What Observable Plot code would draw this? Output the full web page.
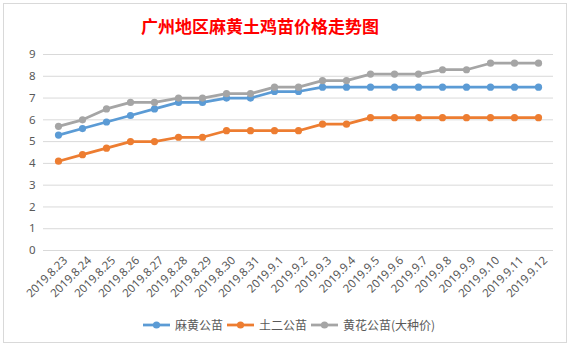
<!DOCTYPE html>
<html>
<head>
<meta charset="utf-8">
<script src="https://cdn.jsdelivr.net/npm/d3@7"></script>
<script src="https://cdn.jsdelivr.net/npm/@observablehq/plot@0.6"></script>
<style>
  html, body { margin: 0; padding: 0; background: #fff; }
  #wrap { position: relative; width: 572px; height: 347px; overflow: hidden; font-family: "Noto Sans CJK SC", "Noto Sans", sans-serif; }
  #frame { position: absolute; left: 3px; top: 3px; width: 564px; height: 340px; border: 1px solid #d9d9d9; box-sizing: border-box; pointer-events: none; }
  #title { position: absolute; left: -26px; top: 13px; width: 572px; text-align: center; color: #ff0000; font-size: 17px; font-weight: bold; line-height: 26px; }
  #chart { position: absolute; left: 0; top: 44px; }
  #legend { position: absolute; left: 0; top: 316px; width: 572px; display: flex; justify-content: center; gap: 4px; font-size: 12px; color: #595959; line-height: 18px; padding-left: 6px; box-sizing: border-box; }
  .item { display: flex; align-items: center; gap: 5px; }
</style>
</head>
<body>
<div id="wrap">
  <div id="frame"></div>
  <div id="title">广州地区麻黄土鸡苗价格走势图</div>
  <div id="chart"></div>
  <div id="legend"></div>
</div>
<script>
const dates = ["2019.8.23","2019.8.24","2019.8.25","2019.8.26","2019.8.27","2019.8.28","2019.8.29","2019.8.30","2019.8.31","2019.9.1","2019.9.2","2019.9.3","2019.9.4","2019.9.5","2019.9.6","2019.9.7","2019.9.8","2019.9.9","2019.9.10","2019.9.11","2019.9.12"];
const seriesNames = ["麻黄公苗", "土二公苗", "黄花公苗(大种价)"];
const mahuang = [5.3,5.6,5.9,6.2,6.5,6.8,6.8,7.0,7.0,7.3,7.3,7.5,7.5,7.5,7.5,7.5,7.5,7.5,7.5,7.5,7.5];
const tuer    = [4.1,4.4,4.7,5.0,5.0,5.2,5.2,5.5,5.5,5.5,5.5,5.8,5.8,6.1,6.1,6.1,6.1,6.1,6.1,6.1,6.1];
const huanghua= [5.7,6.0,6.5,6.8,6.8,7.0,7.0,7.2,7.2,7.5,7.5,7.8,7.8,8.1,8.1,8.1,8.3,8.3,8.6,8.6,8.6];
const yTicks = [0,1,2,3,4,5,6,7,8,9];
const colors = ["#5B9BD5", "#ED7D31", "#A5A5A5"];

const valuesBySeries = [mahuang, tuer, huanghua];
const data = [];
seriesNames.forEach((s, i) => dates.forEach((d, j) => data.push({series: s, date: d, value: valuesBySeries[i][j]})));

const plot = Plot.plot({
  width: 572,
  height: 266,
  marginLeft: 43,
  marginRight: 19,
  marginTop: 10,
  marginBottom: 60,
  style: { fontFamily: "'Noto Sans', 'DejaVu Sans', sans-serif", fontSize: "11px", color: "#595959", background: "transparent" },
  x: { type: "point", domain: dates, padding: 0.5, align: 0.5, label: null },
  y: { domain: [0, 9], label: null },
  color: { domain: seriesNames, range: colors },
  marks: [
    Plot.gridY(yTicks, { stroke: "#d9d9d9", strokeOpacity: 1, strokeWidth: 1 }),
    Plot.axisY(yTicks, { tickSize: 0, tickPadding: 8, fill: "#595959", fontSize: 11.5, label: null }),
    Plot.axisX(dates, { tickSize: 0, tickPadding: 4, tickRotate: -45, fill: "#595959", fontSize: 11.5, label: null, textAnchor: "end", dx: 7, dy: 4 }),
    Plot.line(data, { x: "date", y: "value", z: "series", stroke: "series", strokeWidth: 2.75, curve: "linear" }),
    Plot.dot(data, { x: "date", y: "value", fill: "series", r: 3.6 })
  ]
});
document.getElementById("chart").appendChild(plot);

const legend = document.getElementById("legend");
seriesNames.forEach((s, i) => {
  const item = document.createElement("div");
  item.className = "item";
  item.innerHTML = `<svg width="27" height="10"><line x1="0" y1="5" x2="27" y2="5" stroke="${colors[i]}" stroke-width="2.75"/><circle cx="13.5" cy="5" r="3.6" fill="${colors[i]}"/></svg><span>${s}</span>`;
  legend.appendChild(item);
});
</script>
</body>
</html>
